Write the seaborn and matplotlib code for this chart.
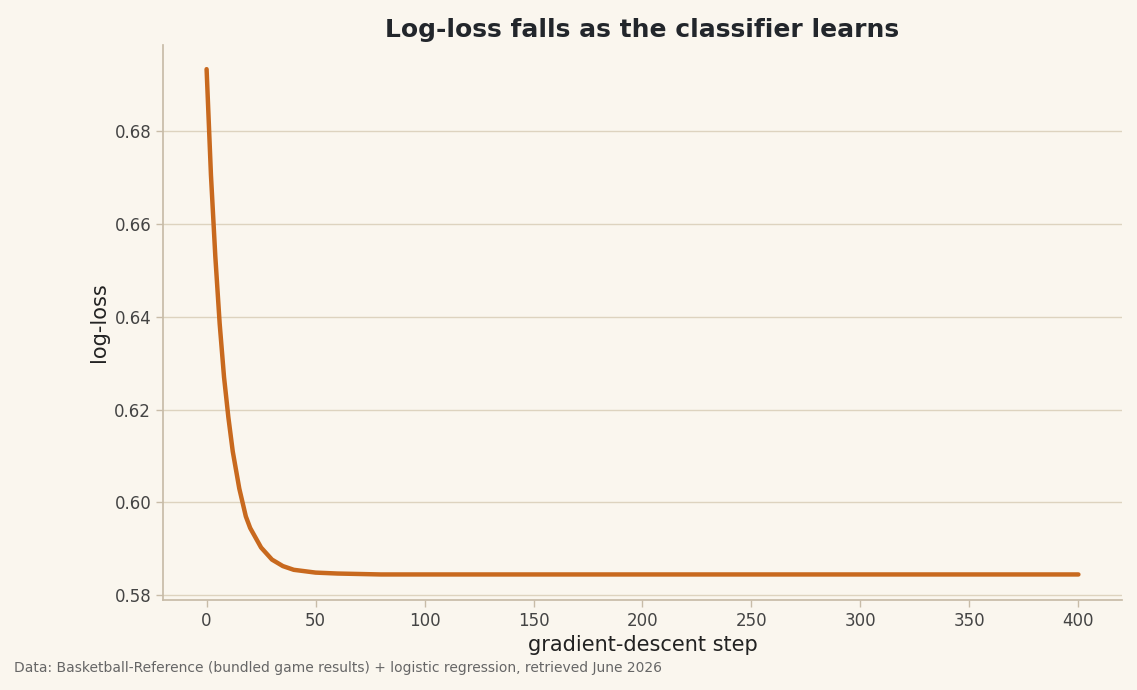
import seaborn as sns
import matplotlib.pyplot as plt
import pandas as pd

# values
steps = [0, 2, 4, 6, 8, 10, 12, 15, 18, 20, 25, 30, 35, 40, 50, 60, 80, 100, 200, 300, 400]
loss = [0.6933, 0.6705, 0.6530, 0.6385, 0.6270, 0.6183, 0.6110, 0.6030, 0.5970, 0.5945,
        0.5903, 0.5877, 0.5863, 0.5855, 0.5849, 0.5847, 0.5845, 0.5845, 0.5845, 0.5845, 0.5845]

bg = "#faf6ee"
sns.set_theme(style="whitegrid")
plt.rcParams['font.family'] = ['DejaVu Sans']

fig = plt.figure(figsize=(11.37, 6.9), dpi=100, facecolor=bg)
ax = fig.add_axes([163/1137, 90/690, 959/1137, 555/690], facecolor=bg)

df = pd.DataFrame({"step": steps, "loss": loss})
sns.lineplot(data=df, x="step", y="loss", ax=ax, color="#c8691e", linewidth=3.2)

ax.set_xlim(-20, 420)
ax.set_ylim(0.579, 0.6985)
ax.set_yticks([0.58, 0.60, 0.62, 0.64, 0.66, 0.68])
ax.set_xticks(range(0, 401, 50))
ax.grid(axis="y", color="#ddd3bf", linewidth=1)
ax.grid(axis="x", visible=False)
for s in ["top", "right"]:
    ax.spines[s].set_visible(False)
for s in ["left", "bottom"]:
    ax.spines[s].set_color("#c8bca8")
ax.tick_params(axis="both", colors="#c8bca8", labelcolor="#444444", labelsize=12, length=5, width=1, left=True, bottom=True)

ax.set_xlabel("gradient-descent step", fontsize=15, color="#222222")
ax.set_ylabel("log-loss", fontsize=15, color="#222222")
ax.set_title("Log-loss falls as the classifier learns", fontsize=18, fontweight="bold", color="#22262b", pad=6)
fig.text(14/1137, 1 - 668/690, "Data: Basketball-Reference (bundled game results) + logistic regression, retrieved June 2026",
         fontsize=10, color="#666666", va="center")

fig.savefig("out.png", dpi=100, facecolor=bg)
